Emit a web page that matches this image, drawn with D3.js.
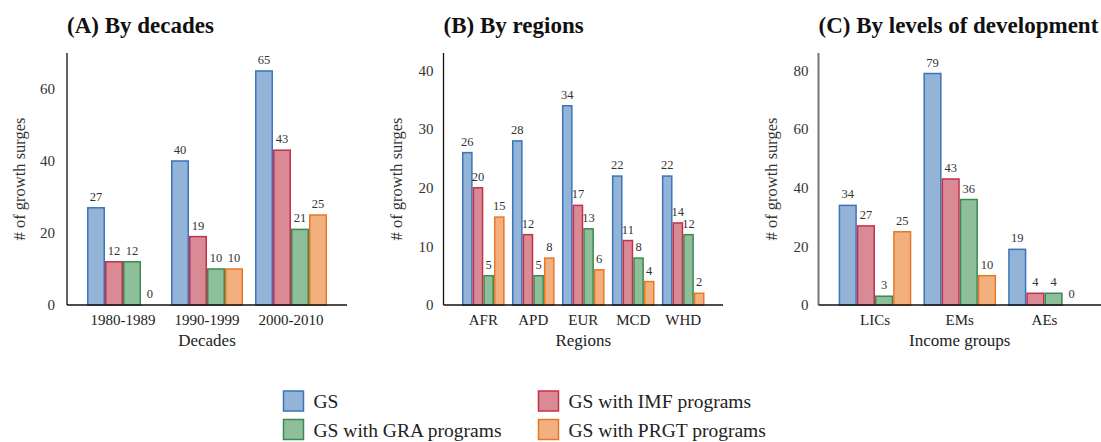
<!DOCTYPE html>
<html><head><meta charset="utf-8">
<script src="https://cdn.jsdelivr.net/npm/d3@7"></script>
<style>body{margin:0;background:#fff}svg{display:block}svg text{font-family:"Liberation Serif","Times New Roman",serif !important}</style>
</head><body>
<svg id="c" width="1101" height="442" font-family="Liberation Serif, serif"></svg>
<script>
const seriesNames = ["GS","GS with IMF programs","GS with GRA programs","GS with PRGT programs"];
const seriesKeys = ["gs","imf","gra","prgt"];
const fills = ["#93b3d7","#d98a94","#8fbe9b","#f3b07f"];
const strokes = ["#3b74ba","#c4304b","#3a8a50","#e97826"];

const decades = ["1980-1989","1990-1999","2000-2010"];
const decGS = [27,40,65], decIMF = [12,19,43], decGRA = [12,10,21], decPRGT = [0,10,25];
const decTicks = [0,20,40,60];

const regions = ["AFR","APD","EUR","MCD","WHD"];
const regGS = [26,28,34,22,22], regIMF = [20,12,17,11,14], regGRA = [5,5,13,8,12], regPRGT = [15,8,6,4,2];
const regTicks = [0,10,20,30,40];

const incomes = ["LICs","EMs","AEs"];
const incGS = [34,79,19], incIMF = [27,43,4], incGRA = [3,36,4], incPRGT = [25,10,0];
const incTicks = [0,20,40,60,80];

const panels = [
  {title:"(A) By decades", xTitle:"Decades", cats:decades, vals:[decGS,decIMF,decGRA,decPRGT], ticks:decTicks, ymax:70,
   x0:67, x1:347, pi:0.143, po:0.238, axisColor:"#111", axisW:1.3, tickGap:12},
  {title:"(B) By regions", xTitle:"Regions", cats:regions, vals:[regGS,regIMF,regGRA,regPRGT], ticks:regTicks, ymax:43,
   x0:443.5, x1:723, pi:0.147, po:0.37, axisColor:"#111", axisW:1.3, tickGap:10},
  {title:"(C) By levels of development", xTitle:"Income groups", cats:incomes, vals:[incGS,incIMF,incGRA,incPRGT], ticks:incTicks, ymax:86,
   x0:818.5, x1:1101, pi:0.143, po:0.238, axisColor:"#777", axisW:2, tickGap:10}
];

const FONT = "'Liberation Serif', 'Times New Roman', serif";
const svg = d3.select("#c");
const yTop = 53, yBase = 305;

panels.forEach(p => {
  const g = svg.append("g");
  const x = d3.scaleBand().domain(p.cats).range([p.x0, p.x1]).paddingInner(p.pi).paddingOuter(p.po);
  const xs = d3.scaleBand().domain(seriesKeys).range([0, x.bandwidth()]).padding(0);
  const y = d3.scaleLinear().domain([0, p.ymax]).range([yBase, yTop]);

  g.append("text").attr("x", p.x0).attr("y", 33).style("font-family", FONT)
    .style("font-size","23px").style("font-weight","bold").style("fill","#111").text(p.title);

  const rows = [];
  p.cats.forEach((c, i) => seriesKeys.forEach((k, j) => rows.push({c, k, j, v: p.vals[j][i]})));
  g.selectAll("rect.bar").data(rows.filter(d => d.v > 0)).join("rect")
    .attr("x", d => x(d.c) + xs(d.k) + 0.75)
    .attr("y", d => y(d.v))
    .attr("width", xs.bandwidth() - 1.5)
    .attr("height", d => yBase - y(d.v))
    .attr("fill", d => fills[d.j]).attr("stroke", d => strokes[d.j]).attr("stroke-width", 1.5);

  g.selectAll("text.val").data(rows).join("text")
    .attr("x", d => x(d.c) + xs(d.k) + xs.bandwidth()/2)
    .attr("y", d => y(d.v) - 7)
    .attr("text-anchor","middle").style("font-family", FONT).style("font-size","12.5px").style("fill","#333")
    .text(d => d.v);

  const ya = d3.axisLeft(y).tickValues(p.ticks).tickSize(0).tickPadding(p.tickGap);
  const yg = g.append("g").attr("transform", `translate(${p.x0},0)`).call(ya).attr("font-family", null);
  yg.select(".domain").remove();
  yg.selectAll("text").style("font-size","15px").style("fill","#333").style("font-family", FONT);
  g.append("line").attr("x1", p.x0).attr("x2", p.x0).attr("y1", yTop).attr("y2", yBase)
    .attr("stroke", p.axisColor).attr("stroke-width", p.axisW);

  const xa = d3.axisBottom(x).tickSize(0).tickPadding(9);
  const xg = g.append("g").attr("transform", `translate(0,${yBase})`).call(xa).attr("font-family", null);
  xg.select(".domain").remove();
  xg.selectAll("text").style("font-size","15px").style("fill","#222").style("font-family", FONT);
  g.append("line").attr("x1", p.x0).attr("x2", p.x1).attr("y1", yBase).attr("y2", yBase)
    .attr("stroke", "#111").attr("stroke-width", 1.3);

  g.append("text").attr("x", (p.x0 + p.x1)/2).attr("y", 346).attr("text-anchor","middle")
    .style("font-family", FONT).style("font-size","17px").style("fill","#222").text(p.xTitle);
  g.append("text").attr("transform", `translate(${p.x0 - 42},${(yTop + yBase)/2}) rotate(-90)`)
    .attr("text-anchor","middle").style("font-family", FONT).style("font-size","16.5px").style("fill","#333")
    .text("# of growth surges");
});

const legPos = [[283.5,391],[538.5,391],[283.5,419.5],[538.5,419.5]];
const lg = svg.append("g");
seriesNames.forEach((n, i) => {
  const [lx, ly] = legPos[i];
  lg.append("rect").attr("x", lx).attr("y", ly).attr("width", 20).attr("height", 20)
    .attr("fill", fills[i]).attr("stroke", strokes[i]).attr("stroke-width", 1.5);
  lg.append("text").attr("x", lx + 30).attr("y", ly + 17).style("font-family", FONT)
    .style("font-size","19.5px").style("fill","#222").text(n);
});
</script>
</body></html>
